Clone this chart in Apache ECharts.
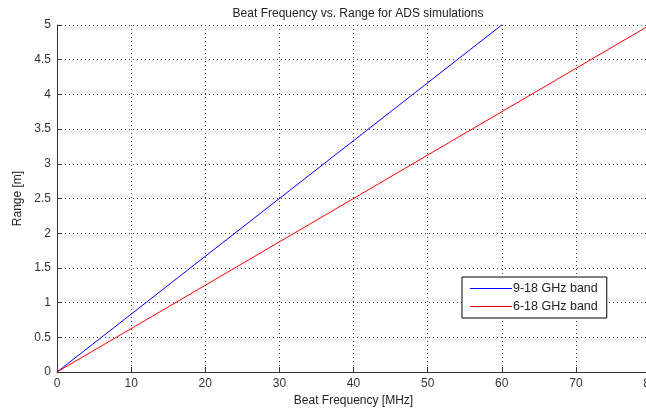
<!DOCTYPE html>
<html>
<head>
<meta charset="utf-8">
<script src="https://cdn.jsdelivr.net/npm/echarts@6/dist/echarts.min.js"></script>
<style>
  html, body { margin: 0; padding: 0; background: #fff; }
  #chart { width: 646px; height: 412px; }
</style>
</head>
<body>
<div id="chart"></div>
<script>
  // beat frequency (MHz) vs range (m)
  const freq918 = [0, 60]
  const range918 = [0, 5]
  const freq618 = [0, 80]
  const range618 = [0, 5]
  const xTicks = [0, 10, 20, 30, 40, 50, 60, 70, 80]
  const yTicks = [0, 0.5, 1, 1.5, 2, 2.5, 3, 3.5, 4, 4.5, 5]

  const font = 'Liberation Sans, Arial, sans-serif'
  let chart = echarts.init(document.getElementById('chart'))

  let options = {
    animation: false,
    title: {
      text: 'Beat Frequency vs. Range for ADS simulations',
      left: 353,
      textAlign: 'center',
      top: 3,
      textStyle: { fontFamily: font, fontSize: 12, fontWeight: 'normal', color: '#222' }
    },
    grid: {
      left: 57,
      top: 25,
      right: -4,
      bottom: 40,
      containLabel: false,
      outerBoundsMode: 'none'
    },
    legend: {
      left: 462,
      top: 277,
      orient: 'vertical',
      itemWidth: 42,
      itemHeight: 1,
      itemGap: 5,
      padding: [5, 9, 5, 8],
      borderColor: '#000',
      borderWidth: 1,
      backgroundColor: '#fff',
      icon: 'rect',
      textStyle: { fontFamily: font, fontSize: 12.5, color: '#222', padding: [0, 0, 0, -4] },
      data: ['9-18 GHz band', '6-18 GHz band']
    },
    xAxis: {
      type: 'value',
      min: xTicks[0],
      max: xTicks[xTicks.length - 1],
      interval: 10,
      name: 'Beat Frequency [MHz]',
      nameLocation: 'middle',
      nameGap: 23,
      nameTextStyle: { fontFamily: font, fontSize: 12, color: '#222' },
      axisLine: { show: true, onZero: false, lineStyle: { color: '#333', width: 1 } },
      axisTick: { show: true, inside: true, length: 5, lineStyle: { color: '#333' } },
      axisLabel: { fontFamily: font, fontSize: 12, color: '#333', margin: 6 },
      splitLine: { show: true, lineStyle: { type: [1, 3], color: '#444', width: 1 } }
    },
    yAxis: {
      type: 'value',
      min: yTicks[0],
      max: yTicks[yTicks.length - 1],
      interval: 0.5,
      name: 'Range [m]',
      nameLocation: 'middle',
      nameGap: 32,
      nameTextStyle: { fontFamily: font, fontSize: 12, color: '#222' },
      axisLine: { show: true, lineStyle: { color: '#333', width: 1 } },
      axisTick: { show: true, inside: true, length: 5, lineStyle: { color: '#333' } },
      axisLabel: { fontFamily: font, fontSize: 12, color: '#333', margin: 6 },
      splitLine: { show: true, lineStyle: { type: [1, 3], color: '#444', width: 1 } }
    },
    series: [
      {
        name: '9-18 GHz band',
        type: 'line',
        data: freq918.map((f, i) => [f, range918[i]]),
        showSymbol: false,
        color: '#0000ff',
        lineStyle: { width: 1, color: '#0000ff' }
      },
      {
        name: '6-18 GHz band',
        type: 'line',
        data: freq618.map((f, i) => [f, range618[i]]),
        showSymbol: false,
        color: '#ff0000',
        lineStyle: { width: 1, color: '#ff0000' }
      }
    ]
  }

  chart.setOption(options, true)
</script>
</body>
</html>
